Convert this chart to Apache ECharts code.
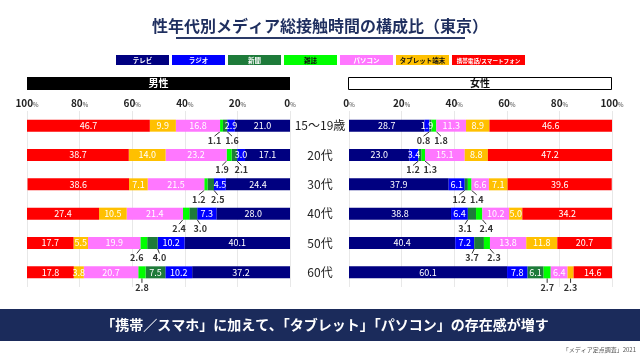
<!DOCTYPE html>
<html><head><meta charset="utf-8">
<script src="https://cdn.jsdelivr.net/npm/echarts@6/dist/echarts.min.js"></script>
<style>html,body{margin:0;padding:0;background:#fff}#c{width:640px;height:360px}</style>
</head><body><div id="c"></div>
<script>
const titleText = '性年代別メディア総接触時間の構成比（東京）';
const media = ['テレビ','ラジオ','新聞','雑誌','パソコン','タブレット端末','携帯電話/スマートフォン'];
const ages = ['15〜19歳','20代','30代','40代','50代','60代'];
const xTicks = [0,20,40,60,80,100];

// 男性 (rows: 15〜19歳, 20代, 30代, 40代, 50代, 60代)
const maleTV      = [21.0, 17.1, 24.4, 28.0, 40.1, 37.2];
const maleRadio   = [2.9, 3.0, 4.5, 7.3, 10.2, 10.2];
const maleNews    = [1.6, 2.1, 2.5, 3.0, 4.0, 7.5];
const maleMag     = [1.1, 1.9, 1.2, 2.4, 2.6, 2.8];
const malePC      = [16.8, 23.2, 21.5, 21.4, 19.9, 20.7];
const maleTablet  = [9.9, 14.0, 7.1, 10.5, 5.5, 3.8];
const maleMobile  = [46.7, 38.7, 38.6, 27.4, 17.7, 17.8];

// 女性
const femaleTV     = [28.7, 23.0, 37.9, 38.8, 40.4, 60.1];
const femaleRadio  = [1.9, 3.4, 6.1, 6.4, 7.2, 7.8];
const femaleNews   = [0.8, 1.2, 1.2, 3.1, 3.7, 6.1];
const femaleMag    = [1.8, 1.3, 1.4, 2.4, 2.3, 2.7];
const femalePC     = [11.3, 15.1, 6.6, 10.2, 13.8, 6.4];
const femaleTablet = [8.9, 8.8, 7.1, 5.0, 11.8, 2.3];
const femaleMobile = [46.6, 47.2, 39.6, 34.2, 20.7, 14.6];

const bannerText = '「携帯／スマホ」に加えて、「タブレット」「パソコン」の存在感が増す';
const sourceText = '「メディア定点調査」2021';

const colors = ['#000080','#0000FF','#1E7B3A','#00FF00','#FF77FF','#FFC000','#FF0000'];
const legendTextColors = ['#fff','#fff','#fff','#111','#fff','#111','#fff'];
const FONT = '"Noto Sans CJK JP", "Noto Sans", sans-serif';

const maleData = [maleTV, maleRadio, maleNews, maleMag, malePC, maleTablet, maleMobile];
const femaleData = [femaleTV, femaleRadio, femaleNews, femaleMag, femalePC, femaleTablet, femaleMobile];

function isOutside(mi, v) {
  if (mi === 2 || mi === 3) return v < 5;
  return mi !== 1 && v < 3;
}

function buildSeries(side, data, gi) {
  return data.map((arr, mi) => {
    const dir = side === 'male' ? 1 : -1; // direction toward 0%
    return {
      name: media[mi],
      type: 'bar',
      stack: side,
      xAxisIndex: gi, yAxisIndex: gi,
      barWidth: 12,
      itemStyle: { color: colors[mi] },
      data: arr.map((v, ri) => {
        const out = isOutside(mi, v);
        return {
          value: v,
          label: out ? { color: '#333', fontWeight: 'bold' } : {},
          labelLine: out ? { show: true, lineStyle: { color: '#333', width: 1 } } : { show: false }
        };
      }),
      label: {
        show: true, position: 'inside', color: '#fff', fontSize: 9, fontFamily: FONT,
        formatter: p => p.value.toFixed(1)
      },
      labelLayout: function (p) {
        const v = arr[p.dataIndex];
        if (!isOutside(mi, v)) return {};
        let dx = 0;
        if (mi === 2 || mi === 3) {
          const both = isOutside(2, data[2][p.dataIndex]) && isOutside(3, data[3][p.dataIndex]);
          if (both) dx = (mi === 2 ? 7 : -7) * dir;
        }
        return { dx: dx, dy: 15 };
      }
    };
  });
}

const chart = echarts.init(document.getElementById('c'), null, { renderer: 'canvas' });

const axisLabelRich = {
  v: { fontSize: 10, fontWeight: 'bold', color: '#222', fontFamily: FONT },
  p: { fontSize: 6, color: '#444', fontFamily: FONT, padding: [3, 0, 0, 0] }
};

const legendX = [];
const legendW = [53, 53, 53, 53, 53, 53, 73];
const legendFont = [6.5, 6.5, 6.5, 6.5, 6.5, 6.5, 5.6];
let lx = 116;
legendW.forEach(w => { legendX.push(lx); lx += w + 3; });

const graphics = [
  { type: 'line', shape: { x1: 176, y1: 38, x2: 465, y2: 38 }, style: { stroke: '#2B3A67', lineWidth: 2 } },
  { type: 'rect', shape: { x: 27, y: 77, width: 263, height: 13 }, style: { fill: '#000' } },
  { type: 'text', x: 158.5, y: 83.5, style: { text: '男性', fill: '#fff', font: 'bold 10px ' + FONT, align: 'center', verticalAlign: 'middle' } },
  { type: 'rect', shape: { x: 348.5, y: 77.5, width: 263, height: 12 }, style: { fill: '#fff', stroke: '#000', lineWidth: 1 } },
  { type: 'text', x: 480, y: 83.5, style: { text: '女性', fill: '#111', font: 'bold 10px ' + FONT, align: 'center', verticalAlign: 'middle' } },
  { type: 'rect', shape: { x: 0, y: 309, width: 640, height: 32 }, style: { fill: '#1B2B5B' } },
  { type: 'text', x: 325, y: 325, style: { text: bannerText, fill: '#fff', font: 'bold 14px ' + FONT, align: 'center', verticalAlign: 'middle' } },
  { type: 'text', x: 636, y: 350, style: { text: sourceText, fill: '#555', font: '6px ' + FONT, align: 'right', verticalAlign: 'middle' } }
];
media.forEach((m, i) => {
  graphics.push({ type: 'rect', shape: { x: legendX[i], y: 55, width: legendW[i], height: 10 }, style: { fill: colors[i] } });
  graphics.push({ type: 'text', x: legendX[i] + legendW[i] / 2, y: 60.5, style: { text: m, fill: legendTextColors[i], font: 'bold ' + legendFont[i] + 'px ' + FONT, align: 'center', verticalAlign: 'middle' } });
});

const option = {
  animation: false,
  title: {
    text: titleText, left: 'center', top: 13,
    textStyle: { fontSize: 16, fontWeight: 'bold', color: '#1F2F5F', fontFamily: FONT }
  },
  grid: [
    { left: 27, width: 263, top: 111, height: 176 },
    { left: 349, width: 263, top: 111, height: 176 }
  ],
  xAxis: [0, 1].map(gi => ({
    type: 'value', gridIndex: gi, min: 0, max: 100, interval: 20, position: 'top',
    inverse: gi === 0,
    axisLine: { show: false }, axisTick: { show: false },
    splitLine: { show: true, lineStyle: { color: '#e8e8e8' } },
    axisLabel: { margin: 3, formatter: v => '{v|' + v + '}{p|%}', rich: axisLabelRich }
  })),
  yAxis: [
    {
      type: 'category', gridIndex: 0, data: ages, inverse: true, position: 'right',
      axisLine: { show: false }, axisTick: { show: false },
      axisLabel: { align: 'center', margin: 30, fontSize: 12, color: '#222', fontFamily: FONT }
    },
    {
      type: 'category', gridIndex: 1, data: ages, inverse: true,
      axisLine: { show: false }, axisTick: { show: false }, axisLabel: { show: false }
    }
  ],
  series: buildSeries('male', maleData, 0).concat(buildSeries('female', femaleData, 1)),
  graphic: graphics
};
chart.setOption(option);
</script>
</body></html>
